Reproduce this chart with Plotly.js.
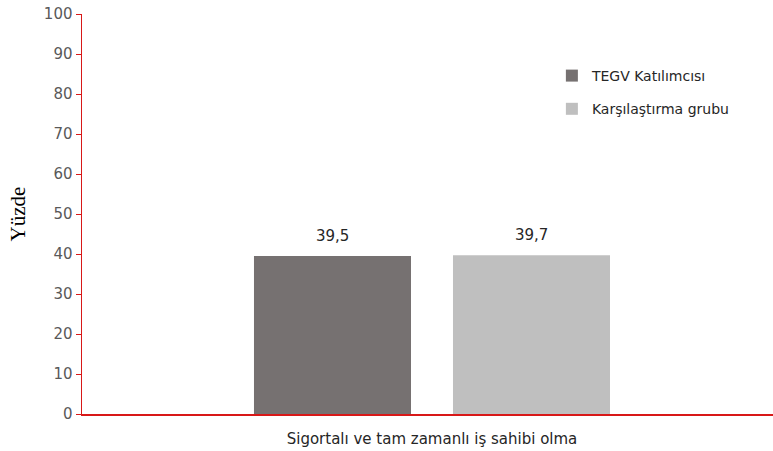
<!DOCTYPE html>
<html><head><meta charset="utf-8">
<script src="https://cdn.plot.ly/plotly-3.0.1.min.js"></script>
<style>body{margin:0;background:#fff}#chart{width:773px;height:451px}</style>
</head><body><div id="chart"></div>
<script>
const categories = ["Sigortalı ve tam zamanlı iş sahibi olma"];
const seriesNames = ["TEGV Katılımcısı", "Karşılaştırma grubu"];
const tegvValues = [39.5];
const compValues = [39.7];
const yTicks = [0,10,20,30,40,50,60,70,80,90,100];
const colors = ["#767171", "#bfbfbf"];

function fmt(v){ return v.toFixed(1).replace('.', ','); }
const allSeries = [tegvValues, compValues];

const traces = allSeries.map((vals, i) => ({
  type: 'bar',
  name: seriesNames[i],
  legendgroup: 'g' + i,
  x: categories,
  y: vals,
  marker: {color: colors[i]},
  hoverinfo: 'skip'
}));

const annotations = [];
allSeries.forEach((vals, i) => {
  vals.forEach((v, j) => {
    annotations.push({
      x: categories[j], y: v, xref: 'x', yref: 'y',
      text: fmt(v), showarrow: false,
      xshift: (i === 0 ? -1 : 1) * 99.5, yshift: 20,
      yanchor: 'middle',
      font: {family: 'DejaVu Sans, sans-serif', size: 15, color: '#262626'}
    });
  });
});

const layout = {
  width: 773, height: 451,
  margin: {l: 82, r: 0, t: 14, b: 37},
  paper_bgcolor: '#fff', plot_bgcolor: '#fff',
  barmode: 'group',
  bargap: 0.424,
  bargroupgap: 0.211,
  showlegend: true,
  annotations: annotations,
  legend: {
    x: 0.68, y: 0.885, xanchor: 'left', yanchor: 'top',
    font: {family: 'DejaVu Sans, sans-serif', size: 14, color: '#262626'},
    tracegroupgap: 12, traceorder: 'grouped', bgcolor: 'rgba(0,0,0,0)'
  },
  xaxis: {
    type: 'category',
    range: [-0.5065, 0.4935],
    showline: true, linecolor: '#d81818', linewidth: 1.5,
    ticks: '', showgrid: false, zeroline: false,
    tickfont: {family: 'DejaVu Sans, sans-serif', size: 15, color: '#262626'},
    ticklabelstandoff: 10
  },
  yaxis: {
    range: [0, 100],
    tickvals: yTicks,
    ticktext: yTicks.map(String),
    showline: true, linecolor: '#d81818', linewidth: 1.5,
    ticks: 'outside', ticklen: 5, tickcolor: '#d81818', tickwidth: 1,
    showgrid: false, zeroline: false,
    tickfont: {family: 'DejaVu Sans, sans-serif', size: 15, color: '#595959'},
    title: {text: 'Yüzde', font: {family: 'Liberation Serif, Times New Roman, serif', size: 21, color: '#000'}, standoff: 12}
  }
};

Plotly.newPlot('chart', traces, layout, {displayModeBar: false, staticPlot: true});
</script>
</body></html>
